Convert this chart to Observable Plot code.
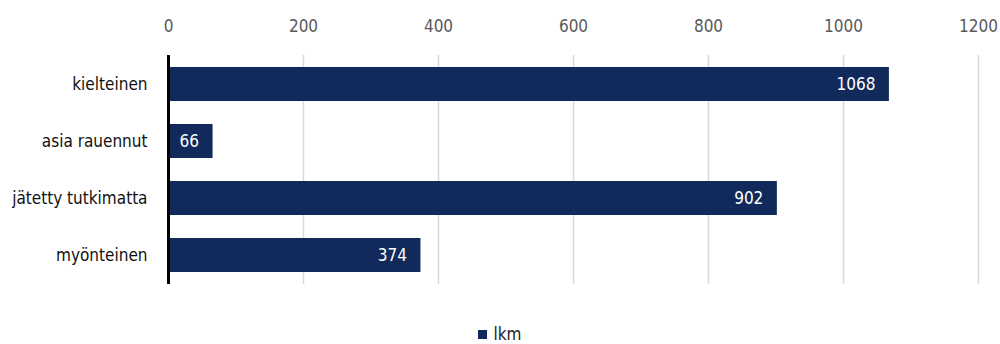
<!DOCTYPE html>
<html><head><meta charset="utf-8">
<script src="https://cdn.jsdelivr.net/npm/d3@7"></script>
<script src="https://cdn.jsdelivr.net/npm/@observablehq/plot@0.6"></script>
<style>
html,body{margin:0;padding:0;background:#fff;}
body{width:1000px;height:344px;overflow:hidden;font-family:"Liberation Sans Narrow","DejaVu Sans Condensed",sans-serif;}
#legend{position:absolute;top:324px;left:0;width:1000px;text-align:center;font-size:17px;color:#222;}
#legend .sw{display:inline-block;width:9px;height:9px;background:#12295B;margin-right:6px;vertical-align:1px;}
</style>
</head><body>
<div id="chart"></div>
<div id="legend"><span class="sw"></span>lkm</div>
<script>
const categories = ["kielteinen", "asia rauennut", "jätetty tutkimatta", "myönteinen"];
const values = [1068, 66, 902, 374];
const xTicks = [0, 200, 400, 600, 800, 1000, 1200];
const seriesName = "lkm";

const data = categories.map((c, i) => ({category: c, value: values[i]}));
const navy = "#12295B";

const chart = Plot.plot({
  width: 1000,
  height: 300,
  marginTop: 55,
  marginBottom: 16,
  marginLeft: 168,
  marginRight: 22,
  style: {fontFamily: '"Liberation Sans Narrow","DejaVu Sans Condensed",sans-serif', fontSize: "17px", background: "#fff"},
  x: {domain: [0, 1200], ticks: xTicks, tickFormat: d => String(d)},
  y: {domain: categories, paddingInner: 0.4, paddingOuter: 0.2},
  marks: [
    Plot.gridX(xTicks.filter(d => d > 0), {stroke: "#d9d9d9", strokeOpacity: 1, strokeWidth: 1.5}),
    Plot.axisX({anchor: "top", ticks: xTicks, tickFormat: d => String(d), tickSize: 0, tickPadding: 24, label: null, fill: "#595959", fontSize: 17}),
    Plot.axisY({tickSize: 0, tickPadding: 21, label: null, fill: "#111", fontSize: 17}),
    Plot.barX(data, {x: "value", y: "category", fill: navy}),
    Plot.text(data, {x: "value", y: "category", text: d => String(d.value), textAnchor: "end", dx: -14, fill: "#fff", fontSize: 17}),
    Plot.ruleX([0], {stroke: "#000", strokeWidth: 3})
  ]
});
document.getElementById("chart").appendChild(chart);
</script>
</body></html>
